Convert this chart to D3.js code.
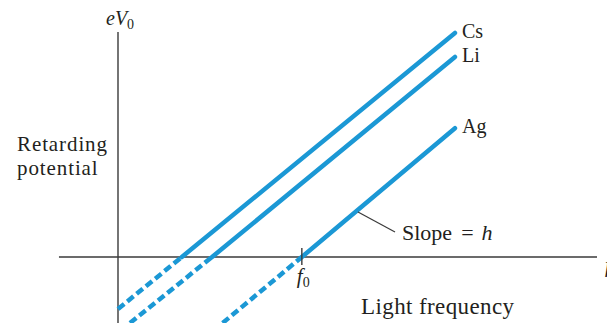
<!DOCTYPE html>
<html>
<head>
<meta charset="utf-8">
<script src="https://cdn.jsdelivr.net/npm/d3@7"></script>
<style>
  html, body { margin: 0; padding: 0; background: #fff; }
  svg { display: block; }
  text { font-family: "Liberation Serif", "DejaVu Serif", serif; fill: #231f20; }
</style>
</head>
<body>
<svg id="chart" width="607" height="323"></svg>
<script>
// Stopping potential vs. light frequency for three metals
const metals = ["Cs", "Li", "Ag"];
// threshold frequencies (where eV0 = 0)
const thresholdFreq = [1.33, 1.96, 3.83];
// lower end of the dashed extrapolation: [frequency, potential]
const dashedStart = [[0, -1.3], [0.25, -1.65], [2.18, -1.65]];
// upper end of the measured (solid) part: [frequency, potential]
const solidEnd = [[7.02, 5.6], [7.02, 5.0], [7.02, 3.22]];

const width = 607, height = 323;
const svg = d3.select("#chart");

const x = d3.scaleLinear().domain([0, 10]).range([118, 598]);
const y = d3.scaleLinear().domain([0, 5.625]).range([257, 32]);

const blue = "#1b98d5";
const axisColor = "#3a3a3a";

// axes
svg.append("line")
  .attr("x1", x(0)).attr("x2", x(0))
  .attr("y1", y(5.625)).attr("y2", height)
  .attr("stroke", axisColor).attr("stroke-width", 1.4);
svg.append("line")
  .attr("x1", x(-1.23)).attr("x2", x(9.98))
  .attr("y1", y(0)).attr("y2", y(0))
  .attr("stroke", axisColor).attr("stroke-width", 1.4);

const line = d3.line().x(d => x(d[0])).y(d => y(d[1]));

metals.forEach((m, i) => {
  const f0 = thresholdFreq[i];
  // dashed extrapolation below the axis
  svg.append("path")
    .attr("d", line([dashedStart[i], [f0, 0]]))
    .attr("fill", "none").attr("stroke", blue)
    .attr("stroke-width", 4.5).attr("stroke-dasharray", "8,4");
  // measured part above the axis
  svg.append("path")
    .attr("d", line([[f0, 0], solidEnd[i]]))
    .attr("fill", "none").attr("stroke", blue)
    .attr("stroke-width", 4.5).attr("stroke-linecap", "round");
  svg.append("text")
    .attr("x", x(solidEnd[i][0]) + 7)
    .attr("y", y(solidEnd[i][1]) + 5)
    .attr("font-size", 20)
    .text(m);
});

// tick mark at the silver threshold f0
const fAg = thresholdFreq[2];
svg.append("line")
  .attr("x1", x(fAg)).attr("x2", x(fAg))
  .attr("y1", y(0) - 9).attr("y2", y(0) + 8)
  .attr("stroke", axisColor).attr("stroke-width", 1.4);

const f0Label = svg.append("text")
  .attr("x", x(fAg) - 5).attr("y", 283).attr("font-size", 21);
f0Label.append("tspan").attr("font-style", "italic").text("f");
f0Label.append("tspan").attr("font-size", 14).attr("dy", 4).text("0");

// vertical axis title
const evLabel = svg.append("text")
  .attr("x", x(0) - 12).attr("y", 25).attr("font-size", 20);
evLabel.append("tspan").attr("font-style", "italic").text("eV");
evLabel.append("tspan").attr("font-size", 14).attr("dy", 4).text("0");

svg.append("text").attr("x", 17).attr("y", 151)
  .attr("font-size", 21).attr("letter-spacing", 0.9).text("Retarding");
svg.append("text").attr("x", 17).attr("y", 174.5)
  .attr("font-size", 21).attr("letter-spacing", 0.9).text("potential");

// slope annotation
svg.append("line")
  .attr("x1", 358).attr("y1", 212).attr("x2", 395).attr("y2", 232)
  .attr("stroke", axisColor).attr("stroke-width", 1.2);
const slope = svg.append("text").attr("x", 402).attr("y", 240).attr("font-size", 22);
slope.append("tspan").text("Slope");
slope.append("tspan").attr("dx", 9).text("=");
slope.append("tspan").attr("dx", 8).attr("font-style", "italic").text("h");

svg.append("text").attr("x", 361).attr("y", 314).attr("font-size", 23)
  .attr("letter-spacing", 0.4).text("Light frequency");

// horizontal axis symbol at the right edge
svg.append("text").attr("x", 605).attr("y", 272).attr("font-size", 20)
  .attr("font-style", "italic").text("f");
</script>
</body>
</html>
